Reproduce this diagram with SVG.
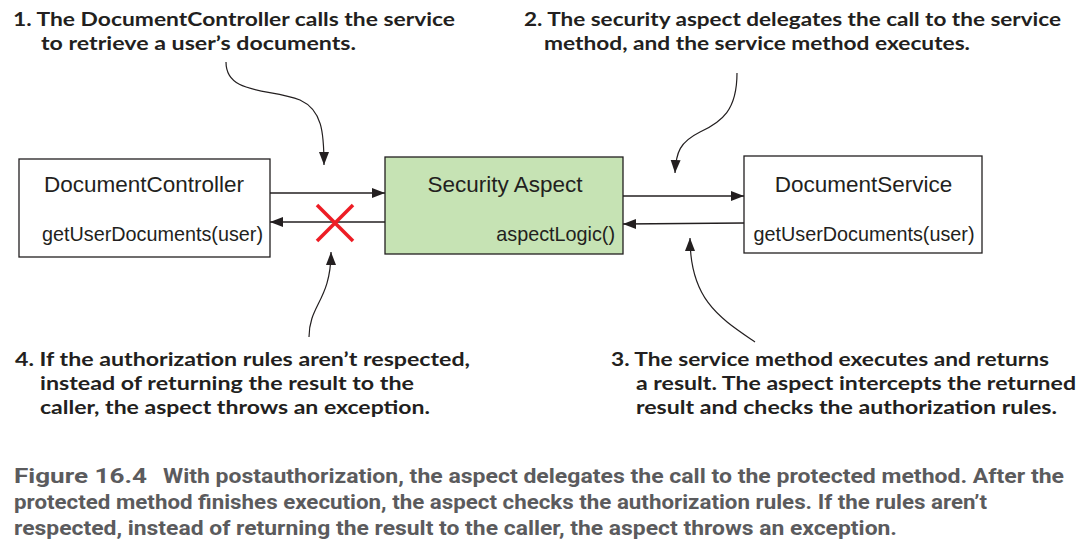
<svg xmlns="http://www.w3.org/2000/svg" width="1084" height="557" viewBox="0 0 1084 557">
<style>
.box{fill:#ffffff;stroke:#231f20;stroke-width:1.3}
.green{fill:#c6e3b4}
.nt{font-family:"Liberation Sans",Arial,sans-serif;font-size:22.5px;fill:#231f20}
.mt{font-family:"Liberation Sans",Arial,sans-serif;font-size:19.8px;fill:#231f20}
.ann{font-family:Lato,"Open Sans",sans-serif;font-weight:700;font-size:19.5px;fill:#231f20}
.cap{font-family:Roboto,"Liberation Sans",sans-serif;font-weight:700;font-size:20px;fill:#5b5b5d}
.conn{fill:none;stroke:#231f20;stroke-width:1.3}
.call{fill:none;stroke:#231f20;stroke-width:1.2}
.x{stroke:#ed1c24;stroke-width:3.5;stroke-linecap:butt}
</style>
<defs>
<marker id="ah" markerWidth="14" markerHeight="12" refX="13" refY="5" orient="auto" markerUnits="userSpaceOnUse">
<path d="M0,0 L13,5 L0,10 Z" fill="#231f20"/>
</marker>
</defs>
<rect width="1084" height="557" fill="#ffffff"/>

<g id="node-controller">
<rect class="box" x="19" y="159" width="251" height="98"/>
<text class="nt" x="144" y="192" text-anchor="middle">DocumentController</text>
<text class="mt" x="42" y="241">getUserDocuments(user)</text>
</g>

<g id="node-aspect">
<rect class="box green" x="385" y="157" width="238" height="97"/>
<text class="nt" x="505" y="192" text-anchor="middle">Security Aspect</text>
<text class="mt" x="615" y="241" text-anchor="end">aspectLogic()</text>
</g>

<g id="node-service">
<rect class="box" x="744" y="156" width="238" height="97"/>
<text class="nt" x="863.5" y="192" text-anchor="middle">DocumentService</text>
<text class="mt" x="864" y="241" text-anchor="middle">getUserDocuments(user)</text>
</g>

<g id="connectors">
<line class="conn" x1="270" y1="193" x2="385" y2="193" marker-end="url(#ah)"/>
<line class="conn" x1="385" y1="222" x2="270" y2="222" marker-end="url(#ah)"/>
<line class="conn" x1="623" y1="196" x2="744" y2="196" marker-end="url(#ah)"/>
<line class="conn" x1="744" y1="223" x2="623" y2="224" marker-end="url(#ah)"/>
<path class="call" d="M226,62 C226,95 270,88 300,100 C322,110 324,132 324,165" marker-end="url(#ah)"/>
<path class="call" d="M737,73 C737,110 722,122 700,132 C680,142 676,152 675,173" marker-end="url(#ah)"/>
<path class="call" d="M755,342 C720,318 690,300 690,238" marker-end="url(#ah)"/>
<path class="call" d="M309,337 C309,305 331,300 331,252" marker-end="url(#ah)"/>
</g>

<g id="blocked-mark">
<line class="x" x1="317" y1="205" x2="353" y2="241"/>
<line class="x" x1="353" y1="205" x2="317" y2="241"/>
</g>

<g id="annotation-1">
<text class="ann" x="13" y="26" textLength="442" lengthAdjust="spacingAndGlyphs">1. The DocumentController calls the service</text>
<text class="ann" x="41" y="50" textLength="315" lengthAdjust="spacingAndGlyphs">to retrieve a user’s documents.</text>
</g>
<g id="annotation-2">
<text class="ann" x="524" y="26" textLength="537" lengthAdjust="spacingAndGlyphs">2. The security aspect delegates the call to the service</text>
<text class="ann" x="544" y="50" textLength="426" lengthAdjust="spacingAndGlyphs">method, and the service method executes.</text>
</g>
<g id="annotation-4">
<text class="ann" x="15" y="366" textLength="455" lengthAdjust="spacingAndGlyphs">4. If the authorization rules aren’t respected,</text>
<text class="ann" x="40" y="390" textLength="374" lengthAdjust="spacingAndGlyphs">instead of returning the result to the</text>
<text class="ann" x="40" y="414" textLength="390" lengthAdjust="spacingAndGlyphs">caller, the aspect throws an exception.</text>
</g>
<g id="annotation-3">
<text class="ann" x="611" y="366" textLength="438" lengthAdjust="spacingAndGlyphs">3. The service method executes and returns</text>
<text class="ann" x="636" y="390" textLength="440" lengthAdjust="spacingAndGlyphs">a result. The aspect intercepts the returned</text>
<text class="ann" x="636" y="414" textLength="421" lengthAdjust="spacingAndGlyphs">result and checks the authorization rules.</text>
</g>

<g id="caption">
<text class="cap" x="14" y="483" textLength="133" lengthAdjust="spacingAndGlyphs">Figure 16.4</text>
<text class="cap" x="163" y="483" textLength="901" lengthAdjust="spacingAndGlyphs">With postauthorization, the aspect delegates the call to the protected method. After the</text>
<text class="cap" x="14" y="509" textLength="973" lengthAdjust="spacingAndGlyphs">protected method finishes execution, the aspect checks the authorization rules. If the rules aren’t</text>
<text class="cap" x="14" y="535" textLength="883" lengthAdjust="spacingAndGlyphs">respected, instead of returning the result to the caller, the aspect throws an exception.</text>
</g>
</svg>
